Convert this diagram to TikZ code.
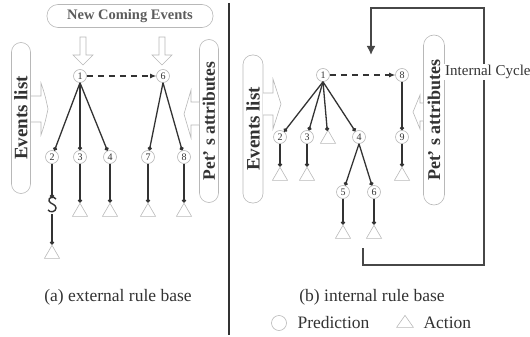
\documentclass[tikz,border=0pt]{standalone}
\usepackage{fontspec}
\setmainfont{Liberation Serif}
\usetikzlibrary{shapes.geometric,arrows.meta}
\definecolor{ink}{HTML}{333333}
\definecolor{pale}{HTML}{B8B8B8}
\tikzset{
  pred/.style={circle,draw=pale,fill=white,line width=0.6pt,minimum size=13pt,inner sep=0pt,font=\fontsize{10}{10}\selectfont,text=ink},
  act/.style={regular polygon,regular polygon sides=3,draw=pale,line width=0.6pt,minimum size=17.5pt,inner sep=0pt},
  conn/.style={draw=ink,line width=1.3pt,-{Circle[length=4pt]}},
  plain/.style={draw=ink,line width=1.3pt},
  dashconn/.style={draw=ink,line width=1.1pt,dash pattern=on 6pt off 5pt,-{Latex[length=6pt,width=5pt]}},
  hollow/.style={draw=pale,line width=0.6pt,fill=white},
  vbox/.style={draw=pale,line width=0.6pt,rotate=90,inner sep=0pt,rounded corners=9.5pt,font=\bfseries,text=ink},
  caption/.style={font=\fontsize{17.5}{18}\selectfont,text=ink},
  cycle/.style={draw=ink!90,line width=1.8pt},
}
\begin{document}
\begin{tikzpicture}[x=1pt,y=-1pt]
\useasboundingbox (0,0) rectangle (530,337);
% divider
\draw[ink,line width=1.6pt] (229,3) -- (229,335);

% ---------- (a) external rule base ----------
\node[draw=pale,line width=0.6pt,rounded corners=11pt,minimum width=166pt,minimum height=23pt,inner sep=0pt,font=\fontsize{14.5}{15}\selectfont\bfseries,text=ink!80] (nce) at (130,16) {New Coming Events};
\node[vbox,minimum width=151pt,minimum height=19pt,font=\fontsize{19}{19}\selectfont\bfseries] (evl) at (21,118) {Events list};
\node[vbox,minimum width=163pt,minimum height=19pt,font=\fontsize{17.5}{18}\selectfont\bfseries] (petl) at (209,121) {Pet’ s attributes};
% hollow arrows
\draw[hollow] (80,37) -- (86,37) -- (86,55) -- (93,55) -- (83,65) -- (73,55) -- (80,55) -- cycle;
\draw[hollow] (159,37) -- (165,37) -- (165,55) -- (172,55) -- (162,65) -- (152,55) -- (159,55) -- cycle;
\draw[hollow] (31,96) -- (41,96) -- (41,83) .. controls (45,95) .. (48,109) .. controls (45,123) .. (41,135) -- (41,122) -- (31,122);
\draw[hollow] (199,102) -- (191,102) -- (191,90) .. controls (188,102) .. (184,114) .. controls (188,126) .. (191,138) -- (191,125) -- (199,125);

\node[pred] (l1) at (80,76) {1};
\node[pred] (l6) at (163,76) {6};
\node[pred] (l2) at (52,157) {2};
\node[pred] (l3) at (80,157) {3};
\node[pred] (l4) at (110,157) {4};
\node[pred] (l7) at (148,157) {7};
\node[pred] (l8) at (184,157) {8};
\node[act] (lt2) at (52,254) {};
\node[act] (lt3) at (80,212) {};
\node[act] (lt4) at (110,212) {};
\node[act] (lt7) at (148,212) {};
\node[act] (lt8) at (184,212) {};
\coordinate (sqa) at (52,198);
\coordinate (sqb) at (52,214);

\draw[dashconn] (l1) -- (l6);
\foreach \t in {l2,l3,l4} \draw[conn] (l1.south) -- (\t);
\foreach \t in {l7,l8} \draw[conn] (l6.south) -- (\t);
\draw[conn] (l2) -- (sqa);
\draw[plain,line width=1.4pt] (56,199) .. controls (54,196) and (48,197) .. (49,201) .. controls (50,204) and (56,204) .. (56,208) .. controls (56,212) and (50,213) .. (48,210);
\draw[conn] (sqb) -- (lt2);
\draw[conn] (l3) -- (lt3);
\draw[conn] (l4) -- (lt4);
\draw[conn] (l7) -- (lt7);
\draw[conn] (l8) -- (lt8);

\node[caption] (capa) at (118,297) {(a) external rule base};

% ---------- (b) internal rule base ----------
\node[vbox,minimum width=148pt,minimum height=20pt,font=\fontsize{19}{19}\selectfont\bfseries] (evr) at (253,129) {Events list};
\node[vbox,minimum width=170pt,minimum height=21pt,rounded corners=10.5pt,font=\fontsize{18}{18}\selectfont\bfseries] (petr) at (434,120) {Pet’ s attributes};
\draw[hollow] (263,93) -- (273,93) -- (273,79) .. controls (277,91) .. (281,104) .. controls (277,117) .. (273,129) -- (273,115) -- (263,115);
\draw[hollow] (423,103) -- (420,103) -- (420,95) .. controls (417,104) .. (413,112) .. controls (417,121) .. (420,129) -- (420,121) -- (423,121);

\node[pred] (r1) at (323,75) {1};
\node[pred] (r8) at (402,75) {8};
\node[pred] (r2) at (280,137) {2};
\node[pred] (r3) at (307,137) {3};
\node[act] (rtA) at (328,139) {};
\node[pred] (r4) at (359,137) {4};
\node[pred] (r9) at (402,137) {9};
\node[pred] (r5) at (343,192) {5};
\node[pred] (r6) at (374,192) {6};
\node[act] (rt2) at (280,176) {};
\node[act] (rt3) at (307,176) {};
\node[act] (rt9) at (402,176) {};
\node[act] (rt5) at (343,234) {};
\node[act] (rt6) at (374,234) {};

\draw[dashconn] (r1) -- (r8);
\foreach \t in {r2,r3,rtA,r4} \draw[conn] (r1.south) -- (\t);
\draw[conn] (r8) -- (r9);
\draw[conn] (r2) -- (rt2);
\draw[conn] (r3) -- (rt3);
\draw[conn] (r9) -- (rt9);
\draw[conn] (r4.south) -- (r5);
\draw[conn] (r4.south) -- (r6);
\draw[conn] (r5) -- (rt5);
\draw[conn] (r6) -- (rt6);

% internal cycle
\coordinate (cyS) at (363,248);
\coordinate (cyE) at (371,55);
\draw[cycle,-{Latex[length=9pt,width=9pt]}] (cyS) -- (363,265) -- (484,265) -- (484,8) -- (371,8) -- (cyE);
\node[fill=white,anchor=west,inner sep=1pt,font=\fontsize{15}{15}\selectfont,text=ink] (ic) at (444,72) {Internal Cycle};

\node[caption] (capb) at (372,297) {(b) internal rule base};
% legend
\node[circle,draw=pale,line width=0.6pt,minimum size=15pt,inner sep=0pt] (lgc) at (279,323) {};
\node[caption,anchor=west] (lgp) at (294,323) {Prediction};
\node[isosceles triangle,isosceles triangle apex angle=70,shape border rotate=90,draw=pale,line width=0.6pt,minimum height=12pt,minimum width=16pt,inner sep=0pt] (lgt) at (405,323) {};
\node[caption,anchor=west] (lga) at (420,323) {Action};
\end{tikzpicture}
\end{document}
